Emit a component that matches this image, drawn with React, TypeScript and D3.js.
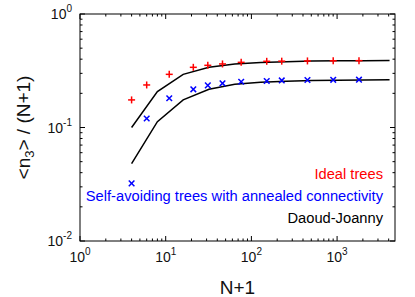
import React from "react";
import * as d3 from "d3";

const W = 415;
const H = 297;
const M = { left: 80, right: 395, top: 14, bottom: 241 };

// simulation points (N+1)
const nValues = [4, 6, 11, 21, 31, 46, 76, 151, 226, 451, 901, 1801];
const idealTrees = [0.175, 0.237, 0.294, 0.339, 0.353, 0.363, 0.375, 0.383, 0.384, 0.386, 0.387, 0.388];
const selfAvoiding = [0.0322, 0.12, 0.181, 0.217, 0.235, 0.245, 0.253, 0.257, 0.26, 0.262, 0.263, 0.264];

// Daoud-Joanny curves
const djN = [4, 8, 16, 32, 64, 128, 256, 512, 1024, 2048, 4096];
const djUpper = [0.1, 0.207, 0.294, 0.339, 0.362, 0.373, 0.38, 0.385, 0.387, 0.388, 0.389];
const djLower = [0.048, 0.1125, 0.175, 0.217, 0.24, 0.25, 0.256, 0.259, 0.261, 0.262, 0.263];

const xDecades = [0, 1, 2, 3];
const yDecades = [-2, -1, 0];
const legendItems = [
  { label: "Ideal trees", color: "#ff0000" },
  { label: "Self-avoiding trees with annealed connectivity", color: "#0000ff" },
  { label: "Daoud-Joanny", color: "#000000" },
];

const font = "'Liberation Sans', Arial, Helvetica, sans-serif";

export default function App() {
  const X = d3.scaleLog().domain([1, 4740]).range([M.left, M.right]);
  const Y = d3.scaleLog().domain([0.01, 1]).range([M.bottom, M.top]);

  const line = d3
    .line<[number, number]>()
    .x((d) => X(d[0]))
    .y((d) => Y(d[1]));

  // minor ticks
  const xMinor: number[] = [];
  for (const e of xDecades) {
    for (let k = 2; k <= 9; k++) {
      const v = k * Math.pow(10, e);
      if (v < X.domain()[1]) xMinor.push(v);
    }
  }
  const yMinor: number[] = [];
  for (const e of [-2, -1]) {
    for (let k = 2; k <= 9; k++) yMinor.push(k * Math.pow(10, e));
  }

  const major = 5;
  const minor = 2.5;

  return (
    <svg
      width={W}
      height={H}
      style={{ position: "absolute", left: 0, top: 0, background: "#fff" }}
      fontFamily={font}
    >
      {/* ticks */}
      <g stroke="#000" strokeWidth={1}>
        {xDecades.map((e) => {
          const x = X(Math.pow(10, e));
          return (
            <g key={"xm" + e}>
              <line x1={x} x2={x} y1={M.bottom} y2={M.bottom - major} />
              <line x1={x} x2={x} y1={M.top} y2={M.top + major} />
            </g>
          );
        })}
        {xMinor.map((v) => {
          const x = X(v);
          return (
            <g key={"xn" + v}>
              <line x1={x} x2={x} y1={M.bottom} y2={M.bottom - minor} />
              <line x1={x} x2={x} y1={M.top} y2={M.top + minor} />
            </g>
          );
        })}
        {yDecades.map((e) => {
          const y = Y(Math.pow(10, e));
          return (
            <g key={"ym" + e}>
              <line x1={M.left} x2={M.left + major} y1={y} y2={y} />
              <line x1={M.right} x2={M.right - major} y1={y} y2={y} />
            </g>
          );
        })}
        {yMinor.map((v) => {
          const y = Y(v);
          return (
            <g key={"yn" + v}>
              <line x1={M.left} x2={M.left + minor} y1={y} y2={y} />
              <line x1={M.right} x2={M.right - minor} y1={y} y2={y} />
            </g>
          );
        })}
      </g>

      {/* frame */}
      <rect
        x={M.left}
        y={M.top}
        width={M.right - M.left}
        height={M.bottom - M.top}
        fill="none"
        stroke="#000"
        strokeWidth={1}
      />

      {/* tick labels */}
      <g fill="#111">
        {xDecades.map((e) => (
          <text key={"xl" + e} x={X(Math.pow(10, e))} y={262} textAnchor="middle" fontSize={14}>
            10
            <tspan fontSize={10} dy={-7}>
              {e}
            </tspan>
          </text>
        ))}
        {yDecades.map((e) => (
          <text key={"yl" + e} x={72} y={Y(Math.pow(10, e)) + 5} textAnchor="end" fontSize={14}>
            10
            <tspan fontSize={10} dy={-7}>
              {e}
            </tspan>
          </text>
        ))}
      </g>

      {/* axis titles */}
      <text x={(M.left + M.right) / 2} y={294} textAnchor="middle" fontSize={19} fill="#111">
        N+1
      </text>
      <text
        transform={`translate(30,${(M.top + M.bottom) / 2}) rotate(-90)`}
        textAnchor="middle"
        fontSize={19}
        fill="#111"
      >
        {"<n"}
        <tspan fontSize={13} dy={4}>
          3
        </tspan>
        <tspan dy={-4}>{"> / (N+1)"}</tspan>
      </text>

      {/* Daoud-Joanny */}
      <path
        d={line(djN.map((n, i) => [n, djUpper[i]]) as [number, number][]) || ""}
        fill="none"
        stroke="#000"
        strokeWidth={1.5}
      />
      <path
        d={line(djN.map((n, i) => [n, djLower[i]]) as [number, number][]) || ""}
        fill="none"
        stroke="#000"
        strokeWidth={1.5}
      />

      {/* ideal trees: plus */}
      <g stroke="#ff0000" strokeWidth={1.5}>
        {nValues.map((n, i) => {
          const x = X(n);
          const y = Y(idealTrees[i]);
          return (
            <g key={"p" + n}>
              <line x1={x - 3.5} x2={x + 3.5} y1={y} y2={y} />
              <line x1={x} x2={x} y1={y - 3.5} y2={y + 3.5} />
            </g>
          );
        })}
      </g>

      {/* self-avoiding: cross */}
      <g stroke="#0000ff" strokeWidth={1.5}>
        {nValues.map((n, i) => {
          const x = X(n);
          const y = Y(selfAvoiding[i]);
          return (
            <g key={"c" + n}>
              <line x1={x - 2.8} x2={x + 2.8} y1={y - 2.8} y2={y + 2.8} />
              <line x1={x - 2.8} x2={x + 2.8} y1={y + 2.8} y2={y - 2.8} />
            </g>
          );
        })}
      </g>

      {/* legend */}
      {legendItems.map((item, i) => (
        <text
          key={item.label}
          x={383}
          y={179 + i * 22}
          textAnchor="end"
          fontSize={14.7}
          fill={item.color}
        >
          {item.label}
        </text>
      ))}
    </svg>
  );
}
